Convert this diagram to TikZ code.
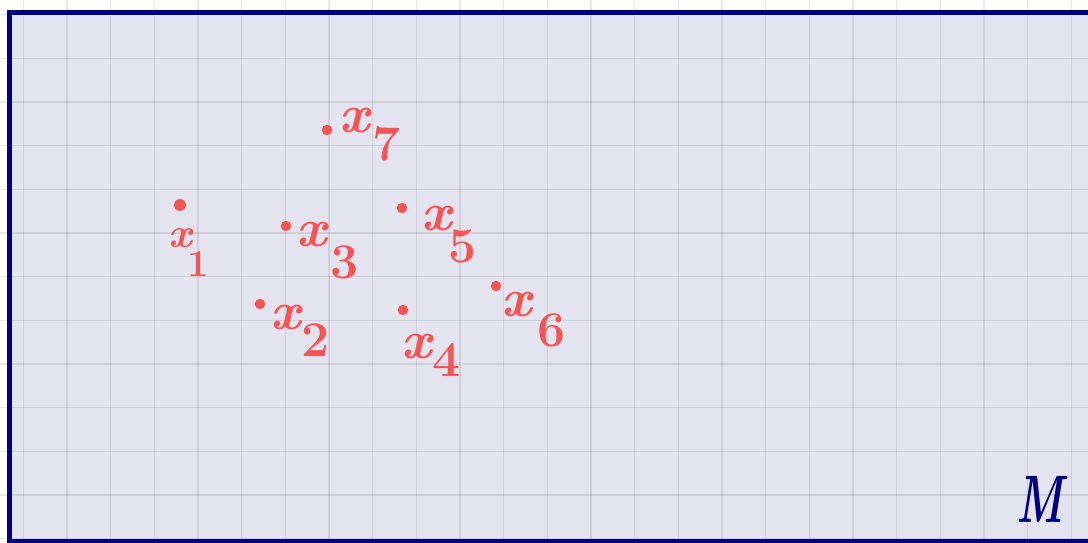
\documentclass[tikz,border=0pt]{standalone}
\usepackage{fontspec}
\usepackage{graphicx}
\definecolor{paper}{RGB}{228,228,240}
\definecolor{penred}{RGB}{245,84,84}
\definecolor{pennavy}{RGB}{0,0,128}
\begin{document}
\begin{tikzpicture}[x=1pt,y=-1pt,
  gridline/.style={draw=black,opacity=0.09,line width=1.3pt},
  frame/.style={draw=pennavy,line width=5.5pt},
  ptdot/.style={circle,fill=penred,inner sep=0pt,minimum size=10.5pt},
  xlab/.style={text=penred,inner sep=0pt,font=\fontsize{54}{58}\selectfont\bfseries\itshape},
  sublab/.style={text=penred,inner sep=0pt,font=\fontsize{50}{56}\selectfont\bfseries},
  mlab/.style={text=pennavy,inner sep=0pt,font=\fontsize{64}{68}\selectfont\bfseries\itshape}]
\useasboundingbox (0,0) rectangle (1088,543);
\fill[white] (0,0) rectangle (1088,543);
\fill[paper] (9.5,12.5) rectangle (1088,543);
\foreach \i in {0,...,24} {
  \draw[gridline] ({23.3+43.67*\i},0) -- ({23.3+43.67*\i},543);
}
\foreach \j in {0,...,12} {
  \draw[gridline] (0,{14.6+43.67*\j}) -- (1088,{14.6+43.67*\j});
}
\coordinate (tr) at (1092,12.5);
\coordinate (tl) at (9.5,12.5);
\coordinate (bl) at (9.5,542);
\coordinate (br) at (1092,542);
\draw[frame] (tr) -- (tl) -- (bl) -- (br);
% points
\node[ptdot,minimum size=12pt] (p1) at (180,205) {};
\node[xlab,font=\fontsize{42}{46}\selectfont\bfseries\itshape] (l1) at (180,238) {x};
\node[sublab,font=\fontsize{38}{42}\selectfont\bfseries] (s1) at (198,264) {1};
\node[ptdot] (p7) at (327,130) {};
\node[xlab] (l7) at (355,121) {x};
\node[sublab] (s7) at (387,144) {7};
\node[ptdot] (p3) at (286,226) {};
\node[xlab] (l3) at (312,235) {x};
\node[sublab] (s3) at (345,262) {3};
\node[ptdot] (p5) at (402,208) {};
\node[xlab] (l5) at (437,219) {x};
\node[sublab] (s5) at (463,246) {5};
\node[ptdot] (p2) at (260,304) {};
\node[xlab] (l2) at (286,318) {x};
\node[sublab] (s2) at (316,340) {2};
\node[ptdot] (p4) at (403,310) {};
\node[xlab] (l4) at (417,347) {x};
\node[sublab] (s4) at (447,360) {4};
\node[ptdot] (p6) at (496,286) {};
\node[xlab] (l6) at (517,305) {x};
\node[sublab] (s6) at (552,330) {6};
\node[mlab] (m) at (1040,499) {\scalebox{0.68}[1.05]{M}};
\end{tikzpicture}
\end{document}
